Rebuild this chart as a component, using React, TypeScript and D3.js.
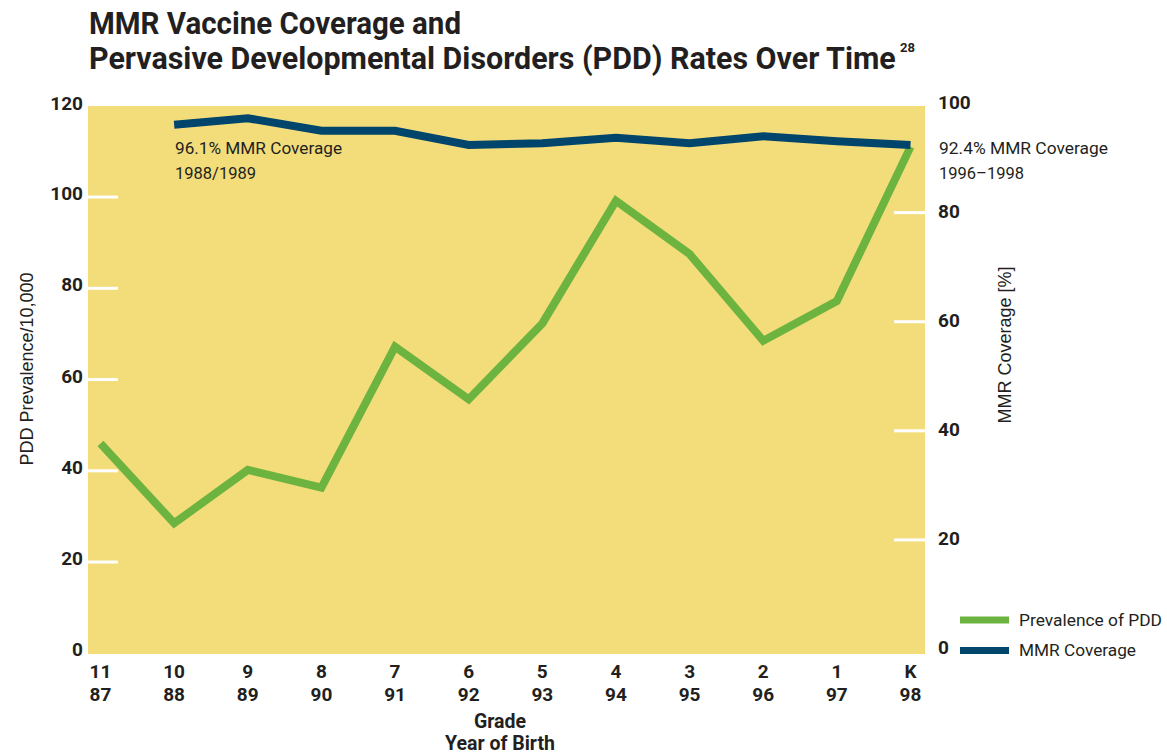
import React from "react";
import * as d3 from "d3";

const grades = ["11", "10", "9", "8", "7", "6", "5", "4", "3", "2", "1", "K"];
const birthYears = ["87", "88", "89", "90", "91", "92", "93", "94", "95", "96", "97", "98"];
const pddPrevalence = [46.0, 28.5, 40.2, 36.3, 67.2, 55.7, 72.3, 99.2, 87.5, 68.5, 77.2, 111.0];
const mmrCoverage: (number | null)[] = [null, 96.1, 97.3, 95.0, 95.0, 92.4, 92.7, 93.7, 92.7, 94.0, 93.1, 92.4];
const leftTicks = [0, 20, 40, 60, 80, 100, 120];
const rightTicks = [0, 20, 40, 60, 80, 100];
const titleLine1 = "MMR Vaccine Coverage and";
const titleLine2 = "Pervasive Developmental Disorders (PDD) Rates Over Time";

const YELLOW = "#f3dd7b";
const GREEN = "#6cb43f";
const BLUE = "#00456b";
const TEXT = "#231f20";
const COND = "Roboto, 'DejaVu Sans', sans-serif";
const ARIAL = "'Liberation Sans', Arial, sans-serif";

function measure(text: string, font: string): number {
  if (typeof document === "undefined") return 0;
  const c = document.createElement("canvas");
  const ctx = c.getContext("2d");
  if (!ctx) return 0;
  ctx.font = font;
  return ctx.measureText(text).width;
}

function Squeezed(props: { x: number; y: number; width: number; size: number; weight?: number; children: string }) {
  const { x, y, width, size, weight = 400, children } = props;
  const natural = measure(children, `${weight} ${size}px Roboto`);
  const sx = natural > 0 ? width / natural : 1;
  return (
    <text
      transform={`translate(${x},${y}) scale(${sx},1)`}
      fontSize={size}
      fontWeight={weight}
      fontFamily={COND}
      fill={TEXT}
    >
      {children}
    </text>
  );
}

export default function App() {
  const W = 1167, H = 754;
  const plot = { x0: 88, x1: 925, y0: 106, y1: 654 };
  const x = d3.scalePoint<string>().domain(grades).range([100.5, 910.5]);
  const yL = d3.scaleLinear().domain([0, 120]).range([653.3, 105.8]);
  const yR = d3.scaleLinear().domain([0, 100]).range([649, 103.5]);

  const greenLine = d3
    .line<number>()
    .x((_, i) => x(grades[i]) as number)
    .y((d) => yL(d))(pddPrevalence) as string;

  const blueLine = d3
    .line<number | null>()
    .defined((d) => d != null)
    .x((_, i) => x(grades[i]) as number)
    .y((d) => yR(d as number))(mmrCoverage) as string;

  return (
    <svg width={W} height={H} style={{ position: "absolute", left: 0, top: 0, background: "#fff" }}>
      <rect x={0} y={0} width={W} height={H} fill="#fff" />
      {/* Title */}
      <Squeezed x={89} y={34} width={372} size={31} weight={700}>{titleLine1}</Squeezed>
      <Squeezed x={89} y={69} width={808} size={31} weight={700}>{titleLine2}</Squeezed>
      <Squeezed x={900} y={52} width={15} size={13} weight={700}>28</Squeezed>

      {/* Plot background */}
      <rect x={plot.x0} y={plot.y0} width={plot.x1 - plot.x0} height={plot.y1 - plot.y0} fill={YELLOW} />

      {/* Left ticks */}
      {leftTicks.map((t) => (
        <g key={"l" + t}>
          {t > 0 && t < 120 && (
            <line x1={plot.x0} x2={plot.x0 + 30} y1={yL(t)} y2={yL(t)} stroke="#fff" strokeWidth={3} />
          )}
          <text
            x={83}
            y={yL(t) + (t === 120 ? 4 : 3)}
            textAnchor="end"
            fontFamily={COND}
            fontWeight={700}
            fontSize={19}
            fill={TEXT}
          >
            {t}
          </text>
        </g>
      ))}

      {/* Right ticks */}
      {rightTicks.map((t) => (
        <g key={"r" + t}>
          {t > 0 && t < 100 && (
            <line x1={plot.x1 - 31} x2={plot.x1} y1={yR(t)} y2={yR(t)} stroke="#fff" strokeWidth={3} />
          )}
          <text x={938} y={yR(t) + 5} fontFamily={COND} fontWeight={700} fontSize={19} fill={TEXT}>
            {t}
          </text>
        </g>
      ))}

      {/* Lines */}
      <path d={greenLine} fill="none" stroke={GREEN} strokeWidth={8} strokeLinejoin="miter" />
      <path d={blueLine} fill="none" stroke={BLUE} strokeWidth={8} strokeLinejoin="miter" />

      {/* Annotations */}
      <g fontFamily={COND} fontSize={16.5} fill={TEXT}>
        <text x={175} y={154} textLength={167} lengthAdjust="spacingAndGlyphs">96.1% MMR Coverage</text>
        <text x={175} y={179}>1988/1989</text>
        <text x={939} y={154} textLength={169} lengthAdjust="spacingAndGlyphs">92.4% MMR Coverage</text>
        <text x={939} y={179}>1996–1998</text>
      </g>

      {/* X tick labels */}
      {grades.map((g, i) => (
        <g key={g} fontFamily={COND} fontWeight={700} fontSize={19} fill={TEXT} textAnchor="middle">
          <text x={x(g)} y={678}>{g}</text>
          <text x={x(g)} y={701}>{birthYears[i]}</text>
        </g>
      ))}

      {/* X axis title */}
      <g fontFamily={COND} fontWeight={700} fontSize={19.5} fill={TEXT} textAnchor="middle">
        <text x={500} y={728}>Grade</text>
        <text x={500} y={750}>Year of Birth</text>
      </g>

      {/* Y axis titles */}
      <text
        transform="translate(33,369) rotate(-90)"
        textAnchor="middle"
        fontFamily={ARIAL}
        fontSize={18}
        fill={TEXT}
      >
        PDD Prevalence/10,000
      </text>
      <text
        transform="translate(1011,345) rotate(-90)"
        textAnchor="middle"
        fontFamily={ARIAL}
        fontSize={18}
        fill={TEXT}
      >
        MMR Coverage [%]
      </text>

      {/* Legend */}
      <line x1={960} x2={1009} y1={620} y2={620} stroke={GREEN} strokeWidth={7} />
      <line x1={960} x2={1009} y1={650.5} y2={650.5} stroke={BLUE} strokeWidth={7} />
      <g fontFamily={COND} fontSize={16.5} fill={TEXT}>
        <text x={1019} y={626} textLength={143} lengthAdjust="spacingAndGlyphs">Prevalence of PDD</text>
        <text x={1019} y={656} textLength={117} lengthAdjust="spacingAndGlyphs">MMR Coverage</text>
      </g>
    </svg>
  );
}
